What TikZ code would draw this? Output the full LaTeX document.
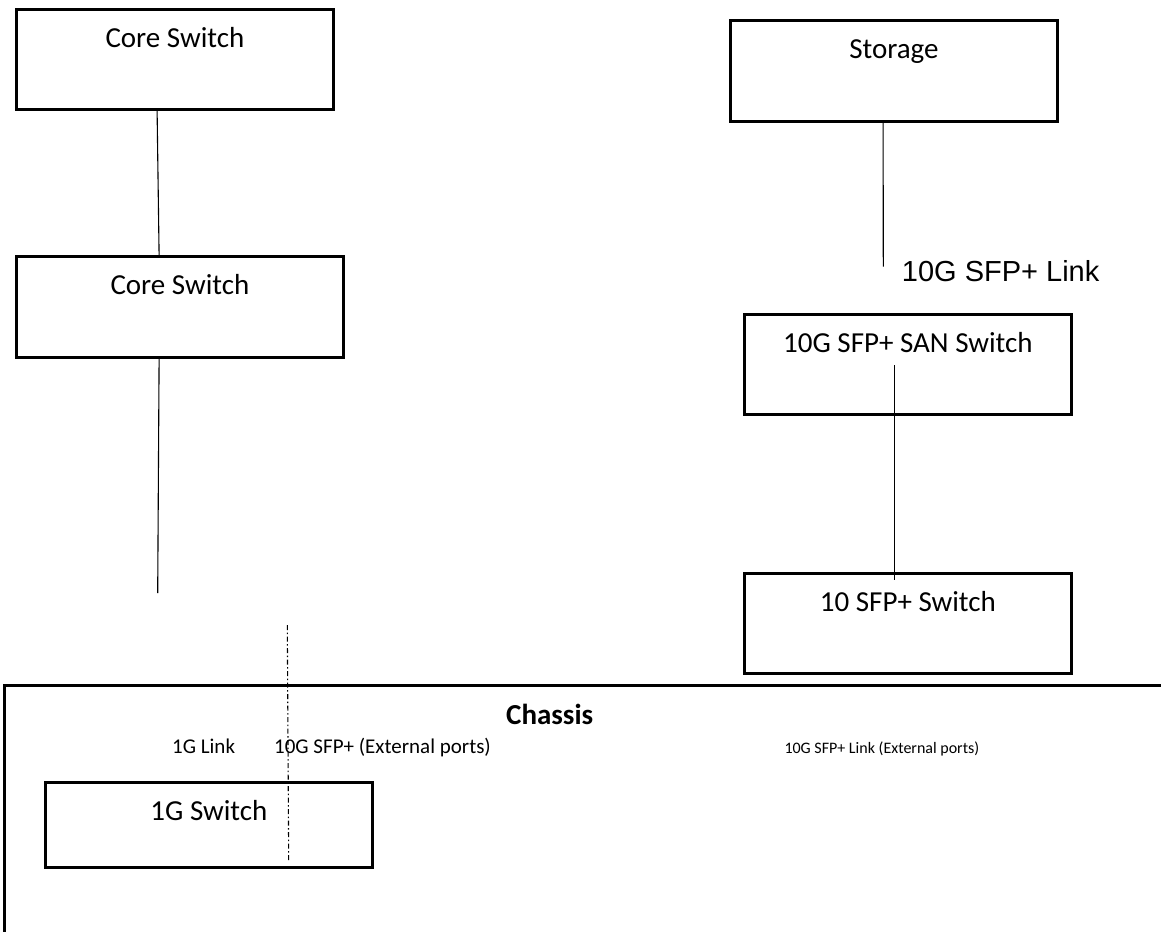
\documentclass[tikz,border=0pt]{standalone}
\usepackage{fontspec}
\setmainfont{Carlito}
\newfontfamily\arialfont{Liberation Sans}
\usepackage{tikz}
\usetikzlibrary{positioning}

\tikzset{
  box/.style={draw, line width=2.8pt, minimum width=327pt, minimum height=100pt, inner sep=0pt, anchor=north west},
  boxtext/.style={font=\fontsize{29}{34}\selectfont, inner sep=0pt, anchor=base},
  porttext/.style={font=\fontsize{21}{25}\selectfont, inner sep=0pt, anchor=base west},
  link/.style={line width=1.1pt},
  portlink/.style={line width=1.1pt, dash pattern=on 5pt off 2.5pt on 1.5pt off 2.5pt},
  frame/.style={line width=3pt}
}

\begin{document}
\begin{tikzpicture}[x=1pt, y=-1pt]
        \useasboundingbox (0,0) rectangle (1161,931);
        % left side: core switches
        \node [box, minimum width=317pt] (core1) at (15,8) {};
        \node [box, minimum height=101pt] (core2) at (15,255) {};
        \node [boxtext] (core1t) at ([yshift=-39.5pt]core1.north) {Core Switch};
        \node [boxtext] (core2t) at ([yshift=-39.5pt]core2.north) {Core Switch};
        \coordinate (uplink) at (157.7,593);
        \draw [link] ([xshift=-17.8pt]core1.south) -- ([xshift=-20.8pt]core2.north);
        \draw [link] ([xshift=-20.8pt]core2.south) -- (uplink);
        % right side: storage and SAN
        \node [box, minimum height=101pt] (storage) at (729,19) {};
        \node [box] (san) at (743,313) {};
        \node [box] (sfp) at (743,572.3) {};
        \node [boxtext] (storaget) at ([yshift=-39.5pt]storage.north) {Storage};
        \node [boxtext] (sant) at ([yshift=-39.5pt]san.north) {10G SFP+ SAN Switch};
        \node [boxtext] (sfpt) at ([yshift=-39.5pt]sfp.north) {10 SFP+ Switch};
        \coordinate (sanlink) at (883.3,266.7);
        \node [inner sep=0pt, anchor=base west, font=\arialfont\fontsize{29}{34}\selectfont] (sanlinkt) at (901.7,281.7) {10G SFP+ Link};
        \draw [link] ([xshift=-10.8pt]storage.south) -- (sanlink);
        \draw [link] ([xshift=-13.2pt, yshift=-52pt]san.north) -- ([xshift=-13.2pt, yshift=-7.7pt]sfp.north);
        % chassis
        \draw [frame] (4.7,940) |- (1170,685.7);
        \node [boxtext] (chassis) at (549.7,724) {\bfseries Chassis};
        \node [porttext] (link1g) at (172,753) {1G Link};
        \node [porttext] (ext10g) at (274,753) {10G SFP+ (External ports)};
        \node [porttext, font=\fontsize{16}{19}\selectfont] (extlink) at (784.3,753.3) {10G SFP+ Link (External ports)};
        \node [box, minimum height=85pt] (sw1g) at (44,781) {};
        \node [boxtext] (sw1gt) at ([yshift=-39.5pt]sw1g.north) {1G Switch};
        \coordinate (portsup) at (287.3,625);
        \draw [portlink] (portsup) -- ([xshift=79.8pt, yshift=8pt]sw1g.south);
\end{tikzpicture}
\end{document}
